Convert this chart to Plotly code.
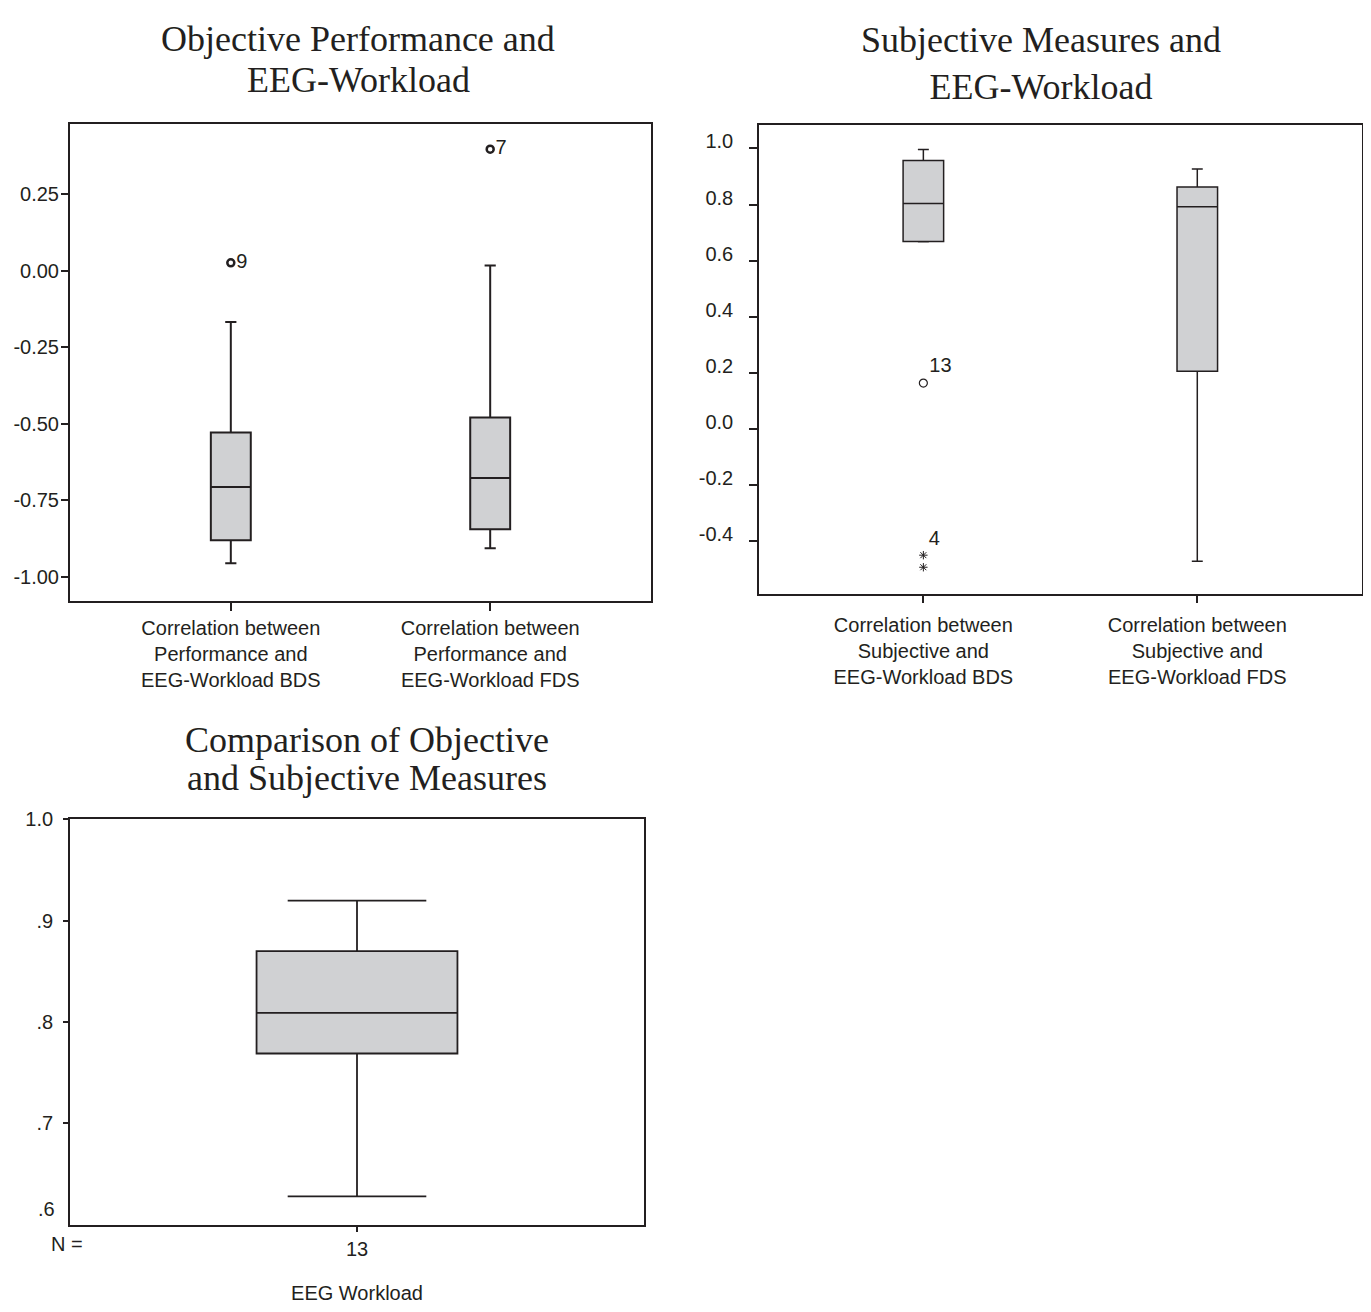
import plotly.graph_objects as go

# ---------------- data ----------------
obj_categories = ["Correlation between<br>Performance and<br>EEG-Workload BDS",
                  "Correlation between<br>Performance and<br>EEG-Workload FDS"]
obj_lowerfence = [-0.955, -0.906]
obj_q1 = [-0.880, -0.844]
obj_median = [-0.706, -0.677]
obj_q3 = [-0.528, -0.479]
obj_upperfence = [-0.167, 0.017]
obj_outlier_pos = [0, 1]
obj_outlier_values = [0.026, 0.397]
obj_outlier_labels = ["9", "7"]
obj_yticks = [0.25, 0.00, -0.25, -0.50, -0.75, -1.00]
obj_yticktext = ["0.25", "0.00", "-0.25", "-0.50", "-0.75", "-1.00"]

subj_categories = ["Correlation between<br>Subjective and<br>EEG-Workload BDS",
                   "Correlation between<br>Subjective and<br>EEG-Workload FDS"]
subj_lowerfence = [0.667, -0.471]
subj_q1 = [0.668, 0.206]
subj_median = [0.804, 0.792]
subj_q3 = [0.957, 0.862]
subj_upperfence = [0.996, 0.927]
subj_outlier_pos = [0]
subj_outlier_values = [0.164]
subj_outlier_labels = ["13"]
subj_extreme_pos = [0, 0]
subj_extreme_values = [-0.449, -0.492]
subj_extreme_labels = ["4", ""]
subj_yticks = [1.0, 0.8, 0.6, 0.4, 0.2, 0.0, -0.2, -0.4]
subj_yticktext = ["1.0", "0.8", "0.6", "0.4", "0.2", "0.0", "-0.2", "-0.4"]

cmp_category = ["13"]
cmp_lowerfence = [0.628]
cmp_q1 = [0.769]
cmp_median = [0.809]
cmp_q3 = [0.870]
cmp_upperfence = [0.920]
cmp_yticks = [1.0, 0.9, 0.8, 0.7]
cmp_yticktext = ["1.0", ".9", ".8", ".7"]

title_lines = [
    ["Objective Performance and", "EEG-Workload"],
    ["Subjective Measures and", "EEG-Workload"],
    ["Comparison of Objective", "and Subjective Measures"],
]

# ---------------- style ----------------
INK = "#231f20"
FILL = "#d0d1d3"
PAGE_W, PAGE_H = 1371, 1312
BODY = 8  # default page margin of the html body
W, H = PAGE_W - 2 * BODY, PAGE_H - 2 * BODY
SANS = "Liberation Sans, Arial, sans-serif"
SERIF = "Liberation Serif, Times New Roman, serif"
TF = 20


def px(x):
    return min(max((x - BODY) / W, 0.0), 0.999)


def py(y):
    yy = (y - 8) / 0.99
    return min(max(1 - (yy - BODY) / H, 0.0), 1.0)


fig = go.Figure()

# Panel 1
fig.add_trace(go.Box(
    x=[0, 1], q1=obj_q1, median=obj_median, q3=obj_q3,
    lowerfence=obj_lowerfence, upperfence=obj_upperfence,
    width=0.154, whiskerwidth=0.28, fillcolor=FILL,
    line=dict(color=INK, width=2), boxpoints=False,
    xaxis="x", yaxis="y", showlegend=False, hoverinfo="skip"))
fig.add_trace(go.Scatter(
    x=obj_outlier_pos, y=obj_outlier_values, text=obj_outlier_labels,
    mode="markers+text", textposition="middle right",
    marker=dict(symbol="circle-open", size=7, color=INK, line=dict(width=2.5, color=INK)),
    textfont=dict(family=SANS, size=TF, color=INK),
    xaxis="x", yaxis="y", showlegend=False, hoverinfo="skip"))

# Panel 2
fig.add_trace(go.Box(
    x=[0, 1], q1=subj_q1, median=subj_median, q3=subj_q3,
    lowerfence=subj_lowerfence, upperfence=subj_upperfence,
    width=0.148, whiskerwidth=0.27, fillcolor=FILL,
    line=dict(color=INK, width=1.5), boxpoints=False,
    xaxis="x2", yaxis="y2", showlegend=False, hoverinfo="skip"))
fig.add_trace(go.Scatter(
    x=subj_outlier_pos, y=subj_outlier_values, text=subj_outlier_labels,
    mode="markers+text", textposition="top right",
    marker=dict(symbol="circle-open", size=8, color=INK, line=dict(width=1.2, color=INK)),
    textfont=dict(family=SANS, size=TF, color=INK),
    xaxis="x2", yaxis="y2", showlegend=False, hoverinfo="skip"))
fig.add_trace(go.Scatter(
    x=subj_extreme_pos, y=subj_extreme_values, text=subj_extreme_labels,
    mode="markers+text", textposition="top right",
    marker=dict(symbol="asterisk-open", size=7, color=INK, line=dict(width=1, color=INK)),
    textfont=dict(family=SANS, size=TF, color=INK),
    xaxis="x2", yaxis="y2", showlegend=False, hoverinfo="skip"))

# Panel 3
fig.add_trace(go.Box(
    x=[0], q1=cmp_q1, median=cmp_median, q3=cmp_q3,
    lowerfence=cmp_lowerfence, upperfence=cmp_upperfence,
    width=0.70, whiskerwidth=0.69, fillcolor=FILL,
    line=dict(color=INK, width=1.8), boxpoints=False,
    xaxis="x3", yaxis="y3", showlegend=False, hoverinfo="skip"))

common_axis = dict(showgrid=False, zeroline=False, showline=True, linecolor=INK,
                   mirror=True, ticks="outside", tickcolor=INK,
                   tickfont=dict(family=SANS, size=TF, color=INK))

fig.update_layout(
    width=W, height=H,
    margin=dict(l=0, r=0, t=0, b=0),
    paper_bgcolor="white", plot_bgcolor="white",
    xaxis=dict(common_axis, domain=[px(70), px(651)], range=[-0.62, 1.62],
               tickvals=[0, 1], ticktext=obj_categories, linewidth=2, tickwidth=2, ticklen=8,
               anchor="y"),
    yaxis=dict(common_axis, domain=[py(603), py(122)], range=[-1.077, 0.479],
               tickvals=obj_yticks, ticktext=obj_yticktext, linewidth=2, tickwidth=2, ticklen=7,
               ticklabelstandoff=-2, anchor="x"),
    xaxis2=dict(common_axis, domain=[px(759), px(1365)], range=[-0.6, 1.6],
                tickvals=[0, 1], ticktext=subj_categories, linewidth=1.5, tickwidth=1.5, ticklen=8,
                ticklabelstandoff=5, anchor="y2"),
    yaxis2=dict(common_axis, domain=[py(596), py(123)], range=[-0.586, 1.083],
                tickvals=subj_yticks, ticktext=subj_yticktext, linewidth=1.5, tickwidth=1.5, ticklen=8,
                ticklabelstandoff=12, ticklabelshift=-7, anchor="x2"),
    xaxis3=dict(common_axis, domain=[px(70), px(644)], range=[-1, 1],
                tickvals=[0], ticktext=cmp_category, linewidth=1.8, tickwidth=1.5, ticklen=5,
                title=dict(text="EEG Workload", font=dict(family=SANS, size=TF, color=INK), standoff=30),
                anchor="y3"),
    yaxis3=dict(common_axis, domain=[py(1233), py(824)], range=[0.6, 1.0],
                tickvals=cmp_yticks, ticktext=cmp_yticktext, linewidth=1.8, tickwidth=1.5, ticklen=5,
                ticklabelstandoff=6, anchor="x3"),
)

annotations = []
# panel 1 and 3 titles: one annotation per line
for lines, (cx, y1, y2) in ((title_lines[0], (358, 36, 78)), (title_lines[2], (367, 744, 782))):
    for text, yy in zip(lines, (y1, y2)):
        annotations.append(dict(text=text, x=px(cx), y=py(yy), xref="paper", yref="paper",
                                showarrow=False, font=dict(family=SERIF, size=36, color=INK),
                                xanchor="center", yanchor="middle"))
# panel 2 title sits at the very top edge: one two-line block pinned to the top
annotations.append(dict(text="<br>".join(title_lines[1]), x=px(1041), y=1.0, xref="paper", yref="paper",
                        showarrow=False, font=dict(family=SERIF, size=36, color=INK),
                        xanchor="center", yanchor="top", borderpad=0))
annotations += [
    dict(text="N =", x=px(67), y=py(1253), xref="paper", yref="paper",
         showarrow=False, font=dict(family=SANS, size=TF, color=INK), xanchor="center", yanchor="middle"),
    dict(text=".6", x=px(57), y=py(1217), xref="paper", yref="paper",
         showarrow=False, font=dict(family=SANS, size=TF, color=INK), xanchor="right", yanchor="middle"),
]
fig.update_layout(annotations=annotations)

fig.write_html("out.html")
